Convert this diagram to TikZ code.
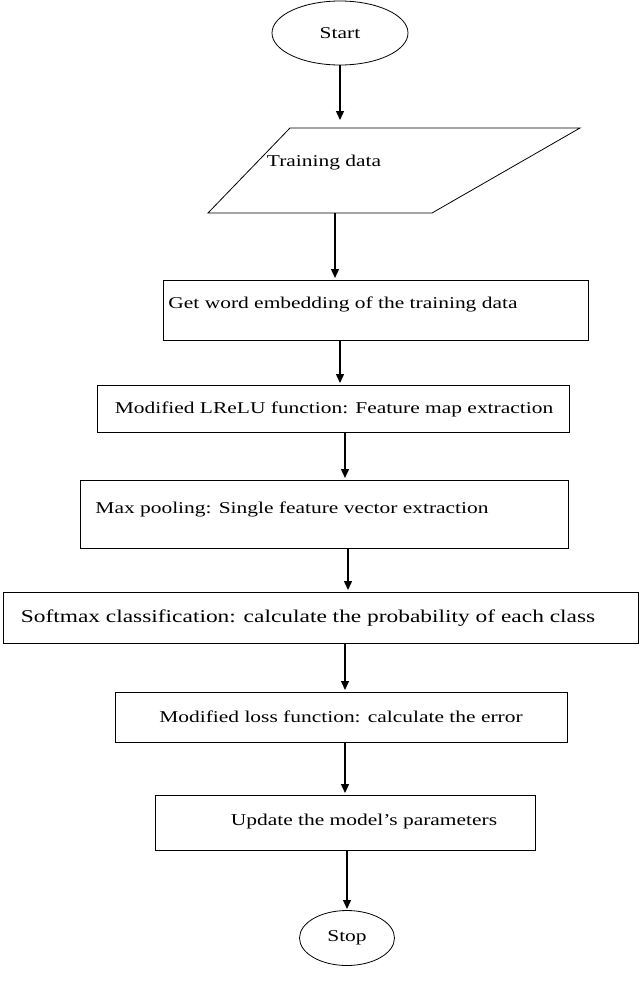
\documentclass[tikz,border=0pt]{standalone}
\usepackage{fontspec}
\setmainfont{Liberation Serif}[FakeStretch=1.3]
\usetikzlibrary{shapes.geometric,arrows.meta}
\begin{document}
\begin{tikzpicture}[x=1pt,y=-1pt,
  box/.style={draw,line width=0.8pt,minimum height=#1,inner sep=0pt},
  arr/.style={-{Triangle[length=9pt,width=8pt]},line width=1.4pt},
  every node/.style={font=\fontsize{16.5}{18}\selectfont}]
\useasboundingbox (0,0) rectangle (640,986);
\node[draw,ellipse,line width=0.8pt,minimum width=136pt,minimum height=64pt] (start) at (340,33) {Start};
\draw[line width=0.8pt] (290,128) -- (580,128) -- (432,213) -- (208,213) -- cycle;
\node (train) at (324,163) {Training data};
\coordinate (tb) at (335,213);
\node[box=60pt,minimum width=425pt] (emb) at (375.5,310) {};
\node at (343,304) {Get word embedding of the training data};
\node[box=47pt,minimum width=472pt] (lrelu) at (333,408.5) {};
\node at (334,409) {Modified LReLU function: Feature map extraction};
\node[box=68pt,minimum width=488pt] (max) at (324,514) {};
\node at (292,509) {Max pooling: Single feature vector extraction};
\node[box=51pt,minimum width=635pt] (soft) at (320.5,617.5) {};
\node[font=\fontsize{18}{20}\selectfont] at (308,618) {Softmax classification: calculate the probability of each class};
\node[box=50pt,minimum width=452pt] (loss) at (341,717) {Modified loss function: calculate the error};
\node[box=55pt,minimum width=380pt] (upd) at (345,822.5) {};
\node at (364,822) {Update the model’s parameters};
\node[draw,ellipse,line width=0.8pt,minimum width=95pt,minimum height=55pt] (stop) at (347,938) {Stop};
\draw[arr] (340,65) -- (340,120);
\draw[arr] (tb) -- (335,278);
\draw[arr] (340,341) -- (340,383);
\draw[arr] (345,433) -- (345,478);
\draw[arr] (348,549) -- (348,590);
\draw[arr] (345,643) -- (345,690);
\draw[arr] (345,742) -- (345,793);
\draw[arr] (347,850) -- (347,909);
\end{tikzpicture}
\end{document}
